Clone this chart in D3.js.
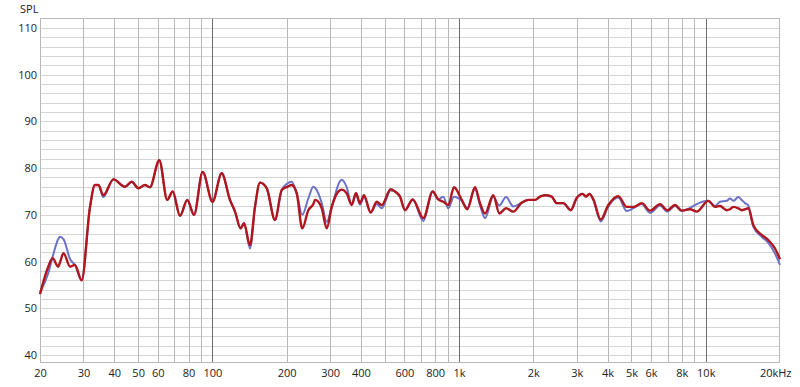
<!DOCTYPE html>
<html><head><meta charset="utf-8">
<script src="https://cdn.jsdelivr.net/npm/d3@7"></script>
<style>body{margin:0;background:#fff}svg{display:block}text{font-family:"Open Sans",sans-serif;font-size:11px;fill:#222}</style>
</head><body><svg id="c" width="800" height="387"></svg>
<script>
const freqs = [20,21.6,22.5,23.7,24.1,24.9,26.5,27.7,29.5,31.9,33.4,34.5,36.1,39.7,44.2,47.1,50.1,53.3,55.8,60.9,65.6,69,73.9,79.1,84.2,91.3,100.1,109,117.8,123.5,130.2,134.3,142,148.8,155.9,166,179.3,191,201.2,209.6,219.7,231.4,244.8,256.5,260.6,268.8,277.5,290.8,304.6,329,334.3,350.3,367,382,396.6,411.6,438.2,463.4,485.6,528.2,549.8,576.2,603.6,648.6,716.2,781.6,823.6,863,904.2,953.6,1025,1080,1160,1216,1274,1376,1456,1550,1659,1794,1908,2031,2129,2230,2374,2487,2646,2836,2998,3170,3270,3373,3501,3751,4028,4422,4780,5118,5500,5944,6526,6986,7504,7990,8634,9190,10242,10906,11426,12162,12543,12938,13555,13992,14430,14878,15590,16860,17938,19088,20000];
const redSeries = [53.0,58.9,60.7,58.9,59.8,61.8,58.9,59.3,56.0,71.7,76.4,76.4,74.2,77.6,76.0,77.1,75.7,76.4,75.9,81.7,73.2,75.0,69.8,73.2,70.0,79.2,72.8,78.9,73.2,70.7,67.1,68.2,63.5,71.7,76.9,75.7,68.9,75.3,76.0,76.4,74.6,67.1,71.0,72.3,73.2,72.8,71.4,67.1,71.7,75.3,75.4,74.6,72.1,74.7,72.5,74.2,70.5,72.8,72.1,75.5,75.0,73.9,71.0,73.3,69.3,75.0,73.3,72.8,72.1,75.9,73.2,71.2,75.9,72.5,70.3,74.2,70.3,71.4,70.7,72.6,73.2,73.2,73.9,74.2,73.9,72.5,72.5,71.0,73.6,74.5,73.9,74.5,73.3,69.0,72.1,74.0,71.7,71.7,72.5,70.9,72.3,71.0,72.1,70.9,71.2,70.7,73.0,71.7,71.9,71.0,71.2,71.7,71.4,71.0,71.2,71.4,67.8,65.7,64.6,62.8,60.5];
const blueSeries = [53.5,57.5,61.0,64.8,65.3,64.8,60.5,59.3,56.0,71.7,76.4,76.4,73.8,77.6,76.0,77.1,75.7,76.4,75.9,81.7,73.2,75.0,69.8,73.2,70.0,79.2,72.8,78.9,73.2,70.7,67.1,68.2,62.8,71.7,76.9,75.7,68.9,75.3,76.7,77.1,74.6,70.0,73.5,76.0,75.8,74.6,72.5,68.5,71.7,77.2,77.5,75.9,72.3,74.3,72.2,73.8,70.5,72.3,71.4,75.2,75.0,73.9,71.0,73.3,68.7,75.0,73.3,73.9,71.4,73.9,73.0,71.5,75.5,72.0,69.3,73.9,72.0,73.8,71.8,72.6,73.2,73.2,73.9,74.2,73.9,72.5,72.5,71.0,73.6,74.5,73.9,74.5,73.3,68.6,71.8,73.7,70.8,71.5,72.3,70.4,72.0,70.7,71.9,70.8,71.5,72.3,73.0,71.9,72.8,73.0,73.5,73.0,73.8,73.2,72.5,72.0,67.5,65.3,64.0,61.7,59.3];
const xTickVals = [20,30,40,50,60,80,100,200,300,400,600,800,1000,2000,3000,4000,5000,6000,8000,10000,20000];
const xTickLabels = ["20","30","40","50","60","80","100","200","300","400","600","800","1k","2k","3k","4k","5k","6k","8k","10k","20kHz"];
const yTickVals = [40,50,60,70,80,90,100,110];

const svg = d3.select("#c");
const L=40,R=780,T=18,B=362;
const x = d3.scaleLog().domain([20,20000]).range([L,R]);
const y = d3.scaleLinear().domain([38.5,112.14]).range([B,T]);

const g = svg.append("g");
// horizontal grid every 2 dB
d3.range(40,112,2).forEach(v=>{
  g.append("line").attr("x1",L).attr("x2",R).attr("y1",Math.round(y(v))+0.5).attr("y2",Math.round(y(v))+0.5)
   .attr("stroke", "#d4d4d4").attr("stroke-width",1);
});
// vertical grid
const vgrid=[];
[10,100,1000,10000].forEach(d=>{for(let k=1;k<=9;k++){const f=d*k; if(f>20&&f<20000) vgrid.push(f);}});
vgrid.forEach(f=>{
  const major = (f===100||f===1000||f===10000);
  g.append("line").attr("x1",Math.round(x(f))+0.5).attr("x2",Math.round(x(f))+0.5).attr("y1",T).attr("y2",B)
   .attr("stroke", major?"#6e6e6e":"#b8b8b8").attr("stroke-width",1);
});
// frame
g.append("rect").attr("x",L+0.5).attr("y",T+0.5).attr("width",R-L-1).attr("height",B-T).attr("fill","none").attr("stroke","#b8b8b8");

// axes labels
const xa = d3.axisBottom(x).tickValues(xTickVals).tickFormat((d,i)=>xTickLabels[i]).tickSize(0).tickPadding(7);
const xg = svg.append("g").attr("transform",`translate(0,${B})`).call(xa);
xg.select(".domain").remove();
xg.selectAll("text").style("font-size","11px").attr("fill","#222");
xg.selectAll("text").filter((d,i)=>i===xTickLabels.length-1).attr("text-anchor","end").attr("dx","11");
const ya = d3.axisLeft(y).tickValues(yTickVals).tickSize(0).tickPadding(3);
const yg = svg.append("g").attr("transform",`translate(${L},0)`).call(ya);
yg.select(".domain").remove();
yg.selectAll("text").style("font-size","11px").attr("fill","#222");
svg.append("text").attr("x",20).attr("y",13).text("SPL");

const line = d3.line().x((d,i)=>x(freqs[i])).y(d=>y(d)).curve(d3.curveMonotoneX);
svg.append("path").datum(blueSeries).attr("d",line).attr("fill","none").attr("stroke","#6b70c8").attr("stroke-width",2);
svg.append("path").datum(redSeries).attr("d",line).attr("fill","none").attr("stroke","#b1161c").attr("stroke-width",2.4);
</script></body></html>
